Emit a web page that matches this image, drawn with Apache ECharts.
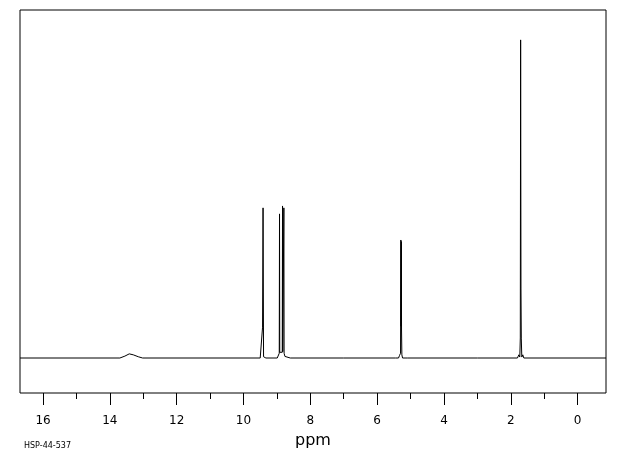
<!DOCTYPE html>
<html>
<head>
<meta charset="utf-8">
<script src="https://cdn.jsdelivr.net/npm/echarts@6/dist/echarts.min.js"></script>
<style>html,body{margin:0;padding:0;background:#fff}#c{width:620px;height:455px}</style>
</head>
<body>
<div id="c"></div>
<script>
// chemical shift (ppm) and relative intensity of the traced spectrum, left to right
const ppm = [16.69, 13.70, 13.55, 13.42, 13.30, 13.15, 13.02,
  9.50, 9.45, 9.43, 9.415, 9.40, 9.37, 9.33,
  8.99, 8.95, 8.93, 8.922, 8.915, 8.87, 8.84, 8.832, 8.825, 8.80, 8.792, 8.785, 8.76, 8.72, 8.60, 7.00,
  5.45, 5.36, 5.33, 5.30, 5.29, 5.285, 5.275, 5.27, 5.26, 5.24, 5.10, 3.00,
  1.80, 1.76, 1.73, 1.715, 1.705, 1.695, 1.685, 1.67, 1.64, 1.61, -0.85];
const intensity = [0, 0, 0.6, 1.3, 1.0, 0.4, 0,
  0, 0.3, 9.7, 47.2, 0.4, 0.6, 0,
  0, 0.5, 1.5, 45.3, 1.8, 1.2, 1.8, 47.8, 2.0, 1.8, 47.2, 1.5, 0.5, 0, 0, 0,
  0, 0, 0.8, 1.5, 37.1, 10, 36.6, 8.8, 1.0, 0, 0, 0,
  0, 1.0, 0.3, 6.3, 100, 21.7, 6, 0.3, 1.0, 0, 0];
const majorTicks = [0, 2, 4, 6, 8, 10, 12, 14, 16];
const minorTicks = [1, 3, 5, 7, 9, 11, 13, 15];
const xTitle = 'ppm';
const sampleId = 'HSP-44-537';

const data = ppm.map((p, i) => [p, intensity[i]]);
const chart = echarts.init(document.getElementById('c'), null, {renderer: 'canvas'});
chart.setOption({
  animation: false,
  backgroundColor: '#fff',
  title: {
    text: sampleId, left: 19, top: 437,
    textStyle: {fontFamily: 'DejaVu Sans', fontSize: 8, fontWeight: 'normal', color: '#000'}
  },
  grid: {left: 20, right: 14, top: 10, bottom: 62, show: true, borderColor: '#000', borderWidth: 1, backgroundColor: 'transparent'},
  xAxis: [{
    type: 'value', inverse: true, min: -0.85, max: 16.69, position: 'bottom',
    name: xTitle, nameLocation: 'middle', nameGap: 40,
    nameTextStyle: {fontFamily: 'DejaVu Sans', fontSize: 16, color: '#000'},
    axisLine: {show: false, onZero: false},
    axisTick: {show: true, inside: false, length: 12, customValues: majorTicks, lineStyle: {color: '#000', width: 1}},
    axisLabel: {show: true, margin: 22, customValues: majorTicks, fontFamily: 'DejaVu Sans', fontSize: 12, color: '#000'},
    splitLine: {show: false}
  }, {
    type: 'value', inverse: true, min: -0.85, max: 16.69, position: 'bottom',
    axisLine: {show: false, onZero: false},
    axisTick: {show: true, inside: false, length: 6, customValues: minorTicks, lineStyle: {color: '#000', width: 1}},
    axisLabel: {show: false},
    splitLine: {show: false}
  }],
  yAxis: {type: 'value', min: -11, max: 109.4, show: false},
  series: [{
    type: 'line', xAxisIndex: 0, data: data, showSymbol: false, symbol: 'none',
    lineStyle: {color: '#000', width: 1}, silent: true
  }]
});
</script>
</body>
</html>
